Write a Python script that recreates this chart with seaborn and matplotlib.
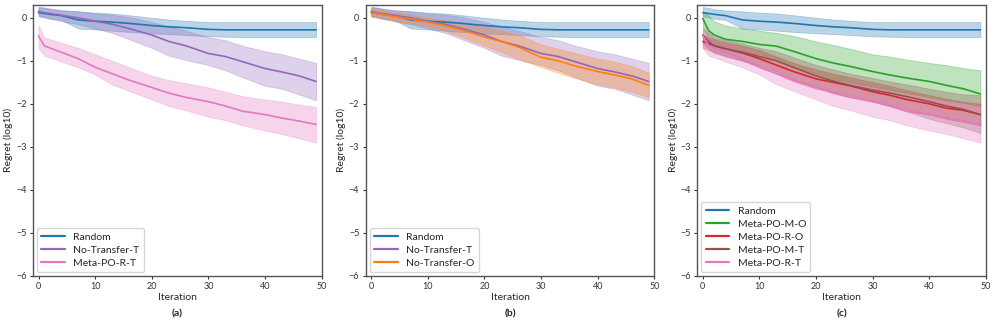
import numpy as np
import pandas as pd
import matplotlib
matplotlib.use("Agg")
import matplotlib.pyplot as plt
import seaborn as sns

# === DATA ===
ITERS = [0, 1, 2, 4, 7, 10, 13, 16, 20, 23, 26, 30, 33, 36, 40, 43, 46, 49]

random_mean = [0.12, 0.10, 0.08, 0.05, -0.05, -0.08, -0.10, -0.13, -0.18, -0.21, -0.23, -0.27, -0.28, -0.28, -0.28, -0.28, -0.28, -0.28]
random_hi = [0.25, 0.23, 0.20, 0.17, 0.15, 0.12, 0.10, 0.06, 0.00, -0.04, -0.07, -0.10, -0.10, -0.10, -0.10, -0.10, -0.10, -0.10]
random_lo = [0.03, 0.01, -0.02, -0.05, -0.25, -0.27, -0.30, -0.33, -0.36, -0.38, -0.40, -0.43, -0.44, -0.45, -0.45, -0.45, -0.45, -0.45]

nt_t_mean = [0.15, 0.12, 0.10, 0.06, 0.00, -0.08, -0.15, -0.25, -0.40, -0.55, -0.65, -0.83, -0.90, -1.02, -1.18, -1.26, -1.35, -1.48]
nt_t_hi = [0.25, 0.24, 0.22, 0.18, 0.15, 0.10, 0.07, 0.02, -0.10, -0.20, -0.30, -0.45, -0.52, -0.65, -0.78, -0.85, -0.95, -1.05]
nt_t_lo = [0.05, 0.02, -0.02, -0.08, -0.15, -0.25, -0.35, -0.50, -0.70, -0.88, -0.98, -1.10, -1.22, -1.38, -1.58, -1.65, -1.78, -1.92]

nt_o_mean = [0.12, 0.10, 0.08, 0.03, -0.03, -0.10, -0.18, -0.28, -0.45, -0.55, -0.68, -0.92, -1.00, -1.12, -1.25, -1.33, -1.42, -1.57]
nt_o_hi = [0.22, 0.20, 0.18, 0.12, 0.07, 0.00, -0.05, -0.12, -0.22, -0.30, -0.40, -0.62, -0.72, -0.82, -0.95, -1.02, -1.12, -1.28]
nt_o_lo = [0.03, 0.00, -0.02, -0.07, -0.13, -0.20, -0.30, -0.45, -0.65, -0.80, -0.95, -1.15, -1.28, -1.40, -1.55, -1.62, -1.72, -1.85]

mo_mean = [-0.02, -0.30, -0.40, -0.50, -0.55, -0.62, -0.66, -0.78, -0.95, -1.05, -1.13, -1.25, -1.33, -1.40, -1.48, -1.57, -1.65, -1.77]
mo_hi = [0.15, 0.05, -0.08, -0.18, -0.25, -0.30, -0.35, -0.42, -0.55, -0.63, -0.72, -0.85, -0.90, -0.97, -1.05, -1.10, -1.17, -1.22]
mo_lo = [-0.20, -0.50, -0.60, -0.70, -0.78, -0.85, -0.95, -1.10, -1.30, -1.42, -1.50, -1.60, -1.68, -1.75, -1.85, -1.92, -1.98, -2.05]

ro_mean = [-0.55, -0.60, -0.65, -0.72, -0.82, -0.95, -1.10, -1.25, -1.42, -1.50, -1.58, -1.72, -1.80, -1.90, -2.00, -2.10, -2.15, -2.25]
ro_hi = [-0.40, -0.45, -0.50, -0.57, -0.65, -0.75, -0.90, -1.05, -1.20, -1.30, -1.38, -1.50, -1.58, -1.68, -1.80, -1.88, -1.95, -2.00]
ro_lo = [-0.70, -0.75, -0.80, -0.88, -1.00, -1.15, -1.30, -1.48, -1.65, -1.72, -1.80, -1.92, -2.02, -2.12, -2.25, -2.35, -2.42, -2.50]

mt_mean = [-0.40, -0.55, -0.65, -0.72, -0.80, -0.90, -1.00, -1.15, -1.35, -1.47, -1.57, -1.68, -1.75, -1.83, -1.95, -2.05, -2.13, -2.25]
mt_hi = [-0.25, -0.35, -0.45, -0.52, -0.60, -0.70, -0.78, -0.92, -1.10, -1.20, -1.30, -1.40, -1.48, -1.55, -1.65, -1.72, -1.78, -1.80]
mt_lo = [-0.60, -0.72, -0.82, -0.90, -1.00, -1.10, -1.25, -1.42, -1.60, -1.72, -1.82, -1.95, -2.05, -2.18, -2.35, -2.45, -2.55, -2.68]

rt_mean = [-0.42, -0.65, -0.70, -0.80, -0.95, -1.15, -1.30, -1.45, -1.62, -1.75, -1.85, -1.95, -2.05, -2.17, -2.25, -2.33, -2.40, -2.48]
rt_hi = [-0.18, -0.45, -0.50, -0.58, -0.70, -0.85, -1.00, -1.15, -1.35, -1.45, -1.52, -1.62, -1.72, -1.82, -1.90, -1.95, -2.02, -2.07]
rt_lo = [-0.70, -0.88, -0.92, -1.02, -1.15, -1.32, -1.55, -1.70, -1.90, -2.05, -2.15, -2.30, -2.38, -2.50, -2.62, -2.70, -2.80, -2.90]

SERIES = {
    "Random": (random_mean, random_lo, random_hi, "#1f77b4"),
    "No-Transfer-T": (nt_t_mean, nt_t_lo, nt_t_hi, "#9467bd"),
    "No-Transfer-O": (nt_o_mean, nt_o_lo, nt_o_hi, "#ff7f0e"),
    "Meta-PO-M-O": (mo_mean, mo_lo, mo_hi, "#2ca02c"),
    "Meta-PO-R-O": (ro_mean, ro_lo, ro_hi, "#d62728"),
    "Meta-PO-M-T": (mt_mean, mt_lo, mt_hi, "#8c564b"),
    "Meta-PO-R-T": (rt_mean, rt_lo, rt_hi, "#e377c2"),
}

PANELS = [
    ("(a)", ["Random", "No-Transfer-T", "Meta-PO-R-T"]),
    ("(b)", ["Random", "No-Transfer-T", "No-Transfer-O"]),
    ("(c)", ["Random", "Meta-PO-M-O", "Meta-PO-R-O", "Meta-PO-M-T", "Meta-PO-R-T"]),
]

# === STYLE ===
sns.set_theme(style="ticks")
plt.rcParams["font.family"] = ["Lato", "DejaVu Sans"]
plt.rcParams["axes.edgecolor"] = "#555555"
plt.rcParams["xtick.color"] = "#333333"
plt.rcParams["ytick.color"] = "#333333"

fig = plt.figure(figsize=(9.96, 3.25), dpi=100)
lefts = [0.033, 0.367, 0.700]
width = 0.290

for (tag, names), left in zip(PANELS, lefts):
    ax = fig.add_axes([left, 0.151, width, 0.834])
    for name in names:
        mean, lo, hi, color = SERIES[name]
        df = pd.DataFrame({"Iteration": ITERS, "Regret": mean})
        sns.lineplot(data=df, x="Iteration", y="Regret", color=color, lw=1.2,
                     label=name, ax=ax)
        ax.fill_between(ITERS, lo, hi, color=color, alpha=0.3, lw=0.6)
    ax.set_xlim(-1, 50)
    ax.set_ylim(-6, 0.3)
    ax.set_xticks([0, 10, 20, 30, 40, 50])
    ax.set_yticks([-6, -5, -4, -3, -2, -1, 0])
    ax.tick_params(labelsize=6.5, length=2.5, width=0.8, pad=2)
    ax.set_xlabel("Iteration", fontsize=7.5, labelpad=1)
    ax.set_ylabel("Regret (log10)", fontsize=7.5, labelpad=2)
    for s in ax.spines.values():
        s.set_linewidth(1.0)
    leg = ax.legend(loc="lower left", fontsize=7.5, frameon=True,
                    borderaxespad=0.4, handlelength=2.3, labelspacing=0.35)
    for line in leg.get_lines():
        line.set_linewidth(1.6)
    fig.text(left + width / 2, 0.035, tag, ha="center", va="center",
             fontsize=7.5, fontweight="bold")

fig.savefig("out.png", dpi=100)
